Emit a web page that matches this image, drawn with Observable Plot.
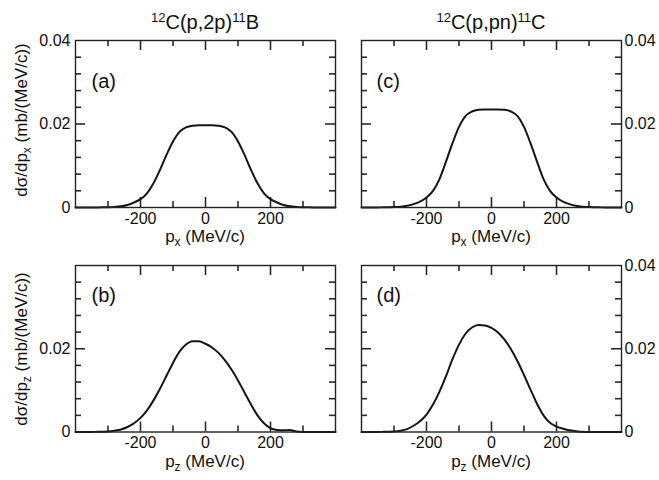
<!DOCTYPE html>
<html>
<head>
<meta charset="utf-8">
<script src="https://cdn.jsdelivr.net/npm/d3@7"></script>
<script src="https://cdn.jsdelivr.net/npm/@observablehq/plot@0.6"></script>
<style>
  body { margin: 0; background: #fff; }
  #fig { position: relative; width: 659px; height: 480px; overflow: hidden; background: #fff;
         font-family: "Liberation Sans", Arial, Helvetica, sans-serif; color: #111; }
  .lbl { position: absolute; white-space: nowrap; }
  .lbl sup, .lbl sub { line-height: 0; }
</style>
</head>
<body>
<div id="fig"></div>
<script>
// ---------- data ----------
const pGrid = [-400,-380,-360,-340,-320,-300,-280,-260,-240,-220,-200,-180,-160,-140,-120,-100,-80,-60,-40,-20,
               0,20,40,60,80,100,120,140,160,180,200,220,240,260,280,300,320,340,360,380,400];

// (a) 12C(p,2p)11B  dσ/dpx
const sigmaA = [0,0,0.00001,0.00002,0.00004,0.00008,0.00015,0.0003,0.0006,0.0012,0.0020,0.0034,0.0058,0.0090,0.0126,0.0158,0.0181,0.0192,0.0196,0.0197,
                0.0197,0.0197,0.0196,0.0192,0.0181,0.0158,0.0126,0.0090,0.0058,0.0034,0.0020,0.0012,0.0006,0.0003,0.00015,0.00008,0.00004,0.00002,0.00001,0,0];
// (b) 12C(p,2p)11B  dσ/dpz
const sigmaB = [0,0,0.00002,0.00003,0.00005,0.0001,0.0003,0.0006,0.0012,0.0021,0.0034,0.0052,0.0076,0.0104,0.0135,0.0166,0.0193,0.0210,0.0218,0.0218,
                0.0212,0.0203,0.0190,0.0172,0.0150,0.0124,0.0095,0.0066,0.0040,0.0021,0.0009,0.0005,0.0004,0.0005,0.0001,0.00002,0,0,0,0,0];
// (c) 12C(p,pn)11C  dσ/dpx
const sigmaC = [0,0,0.00001,0.00003,0.00006,0.0001,0.0002,0.0004,0.0008,0.0014,0.0024,0.0040,0.0068,0.0110,0.0154,0.0193,0.0219,0.0230,0.0234,0.0235,
                0.0235,0.0235,0.0234,0.0230,0.0219,0.0193,0.0154,0.0110,0.0068,0.0040,0.0024,0.0014,0.0008,0.0004,0.0002,0.0001,0.00006,0.00003,0.00001,0,0];
// (d) 12C(p,pn)11C  dσ/dpz
const sigmaD = [0,0,0.00002,0.00003,0.00005,0.0001,0.0003,0.0007,0.0015,0.0026,0.0042,0.0066,0.0097,0.0134,0.0175,0.0210,0.0236,0.0251,0.0257,0.0256,
                0.0250,0.0239,0.0222,0.0199,0.0170,0.0137,0.0102,0.0068,0.0040,0.0022,0.0013,0.0008,0.0004,0.0002,0.00005,0,0,0,0,0,0];

const xLabelTicks = [-200, 0, 200];
const xMajorTicks = [-200, 0, 200];
const xMinorTicks = [-300, -100, 100, 300];
const yMajorTicks = [0.02];
const yMinorTicks = [0.004, 0.008, 0.012, 0.016, 0.024, 0.028, 0.032, 0.036];
const yLabelsA = [0, 0.02, 0.04];
const yLabelsB = [0, 0.02];
const yLabelsC = [0, 0.02, 0.04];
const yLabelsD = [0, 0.02, 0.04];
const panelLetters = ["(a)", "(b)", "(c)", "(d)"];
const columnTitles = ["<sup>12</sup>C(p,2p)<sup>11</sup>B", "<sup>12</sup>C(p,pn)<sup>11</sup>C"];
const yTitles = ["dσ/dp<sub>x</sub> (mb/(MeV/c))", "dσ/dp<sub>z</sub> (mb/(MeV/c))"];
const xTitles = ["p<sub>x</sub> (MeV/c)", "p<sub>z</sub> (MeV/c)"];

// ---------- drawing ----------
const FONT = '"Liberation Sans", Arial, Helvetica, sans-serif';
const fig = document.getElementById("fig");
const TICK = "#2a2a2a";
const TW = 1.6;

function panel({values, yLabels, side, letter, letterDy, letterDx, left, top, width, height, mt, mb, ml, mr}) {
  const data = pGrid.map((p, i) => ({p, v: values[i]}));
  const ih = height - mt - mb, iw = width - ml - mr;
  const svg = Plot.plot({
    width, height,
    marginTop: mt, marginBottom: mb, marginLeft: ml, marginRight: mr,
    x: {domain: [-400, 400]},
    y: {domain: [0, 0.04]},
    style: {fontFamily: FONT, fontSize: "16px"},
    marks: [
      Plot.tickX(xMajorTicks, {x: d => d, insetTop: ih - 10, stroke: TICK, strokeWidth: TW}),
      Plot.tickX(xMajorTicks, {x: d => d, insetBottom: ih - 10, stroke: TICK, strokeWidth: TW}),
      Plot.tickX(xMinorTicks, {x: d => d, insetTop: ih - 6, stroke: TICK, strokeWidth: TW}),
      Plot.tickX(xMinorTicks, {x: d => d, insetBottom: ih - 6, stroke: TICK, strokeWidth: TW}),
      Plot.tickY(yMajorTicks, {y: d => d, insetRight: iw - 10, stroke: TICK, strokeWidth: TW}),
      Plot.tickY(yMajorTicks, {y: d => d, insetLeft: iw - 10, stroke: TICK, strokeWidth: TW}),
      Plot.tickY(yMinorTicks, {y: d => d, insetRight: iw - 6, stroke: TICK, strokeWidth: TW}),
      Plot.tickY(yMinorTicks, {y: d => d, insetLeft: iw - 6, stroke: TICK, strokeWidth: TW}),
      Plot.line(data, {x: "p", y: "v", curve: "monotone-x", stroke: "#151515", strokeWidth: 2}),
      Plot.frame({stroke: "#222", strokeWidth: 1.4}),
      Plot.axisX(xLabelTicks, {anchor: "bottom", tickSize: 0, tickPadding: 5, tickFormat: d => String(d), label: null, fontSize: 16, fill: "#111"}),
      Plot.axisY(yLabels, {anchor: side, tickSize: 0, tickPadding: side === "left" ? 5 : 3,
                           tickFormat: d => d === 0 ? "0" : String(d), label: null, fontSize: 16, fill: "#111"}),
      Plot.text([letter], {text: d => d, frameAnchor: "top-left", dx: letterDx, dy: letterDy,
                           lineAnchor: "bottom", textAnchor: "start", fontSize: 20, fill: "#111"})
    ]
  });
  svg.style.position = "absolute";
  svg.style.left = left + "px";
  svg.style.top = top + "px";
  svg.style.background = "none";
  fig.appendChild(svg);
}

panel({values: sigmaA, yLabels: yLabelsA, side: "left", letter: panelLetters[0], letterDy: 47, letterDx: 16,
       left: 0, top: 0, width: 345, height: 250, mt: 40, mb: 43, ml: 75, mr: 10});
panel({values: sigmaC, yLabels: yLabelsC, side: "right", letter: panelLetters[2], letterDy: 47, letterDx: 15,
       left: 345, top: 0, width: 314, height: 250, mt: 40, mb: 43, ml: 16, mr: 38});
panel({values: sigmaB, yLabels: yLabelsB, side: "left", letter: panelLetters[1], letterDy: 36, letterDx: 16,
       left: 0, top: 250, width: 345, height: 230, mt: 15, mb: 48.5, ml: 75, mr: 10});
panel({values: sigmaD, yLabels: yLabelsD, side: "right", letter: panelLetters[3], letterDy: 36, letterDx: 15,
       left: 345, top: 250, width: 314, height: 230, mt: 15, mb: 48.5, ml: 16, mr: 38});

// horizontal label centred at cx with baseline at y
function hLabel(html, cx, baseline, size, supSize, shift) {
  const d = document.createElement("div");
  d.className = "lbl";
  d.innerHTML = html;
  d.style.fontSize = size + "px";
  d.style.lineHeight = size + "px";
  d.style.width = "300px";
  d.style.textAlign = "center";
  d.style.left = (cx - 150) + "px";
  d.style.top = (baseline - 0.8465 * size) + "px";
  d.querySelectorAll("sup,sub").forEach(e => {
    e.style.fontSize = supSize + "px";
    e.style.verticalAlign = (e.tagName === "SUP" ? shift : -shift) + "px";
  });
  fig.appendChild(d);
}
function vLabel(html, cx, cy, size, subSize, shift) {
  const d = document.createElement("div");
  d.className = "lbl";
  d.innerHTML = html;
  d.style.fontSize = size + "px";
  d.style.lineHeight = size + "px";
  d.style.left = cx + "px";
  d.style.top = cy + "px";
  d.style.transform = "translate(-50%,-50%) rotate(-90deg)";
  d.querySelectorAll("sub").forEach(e => {
    e.style.fontSize = subSize + "px";
    e.style.verticalAlign = (-shift) + "px";
  });
  fig.appendChild(d);
}

hLabel(columnTitles[0], 205, 29, 20, 13, 7);
hLabel(columnTitles[1], 491, 29, 20, 13, 7);
hLabel(xTitles[0], 205, 242, 17, 12, 4);
hLabel(xTitles[0], 491, 242, 17, 12, 4);
hLabel(xTitles[1], 205, 467, 17, 12, 4);
hLabel(xTitles[1], 491, 467, 17, 12, 4);
vLabel(yTitles[0], 21, 120, 17, 12, 4);
vLabel(yTitles[1], 21, 349, 17, 12, 4);
</script>
</body>
</html>
